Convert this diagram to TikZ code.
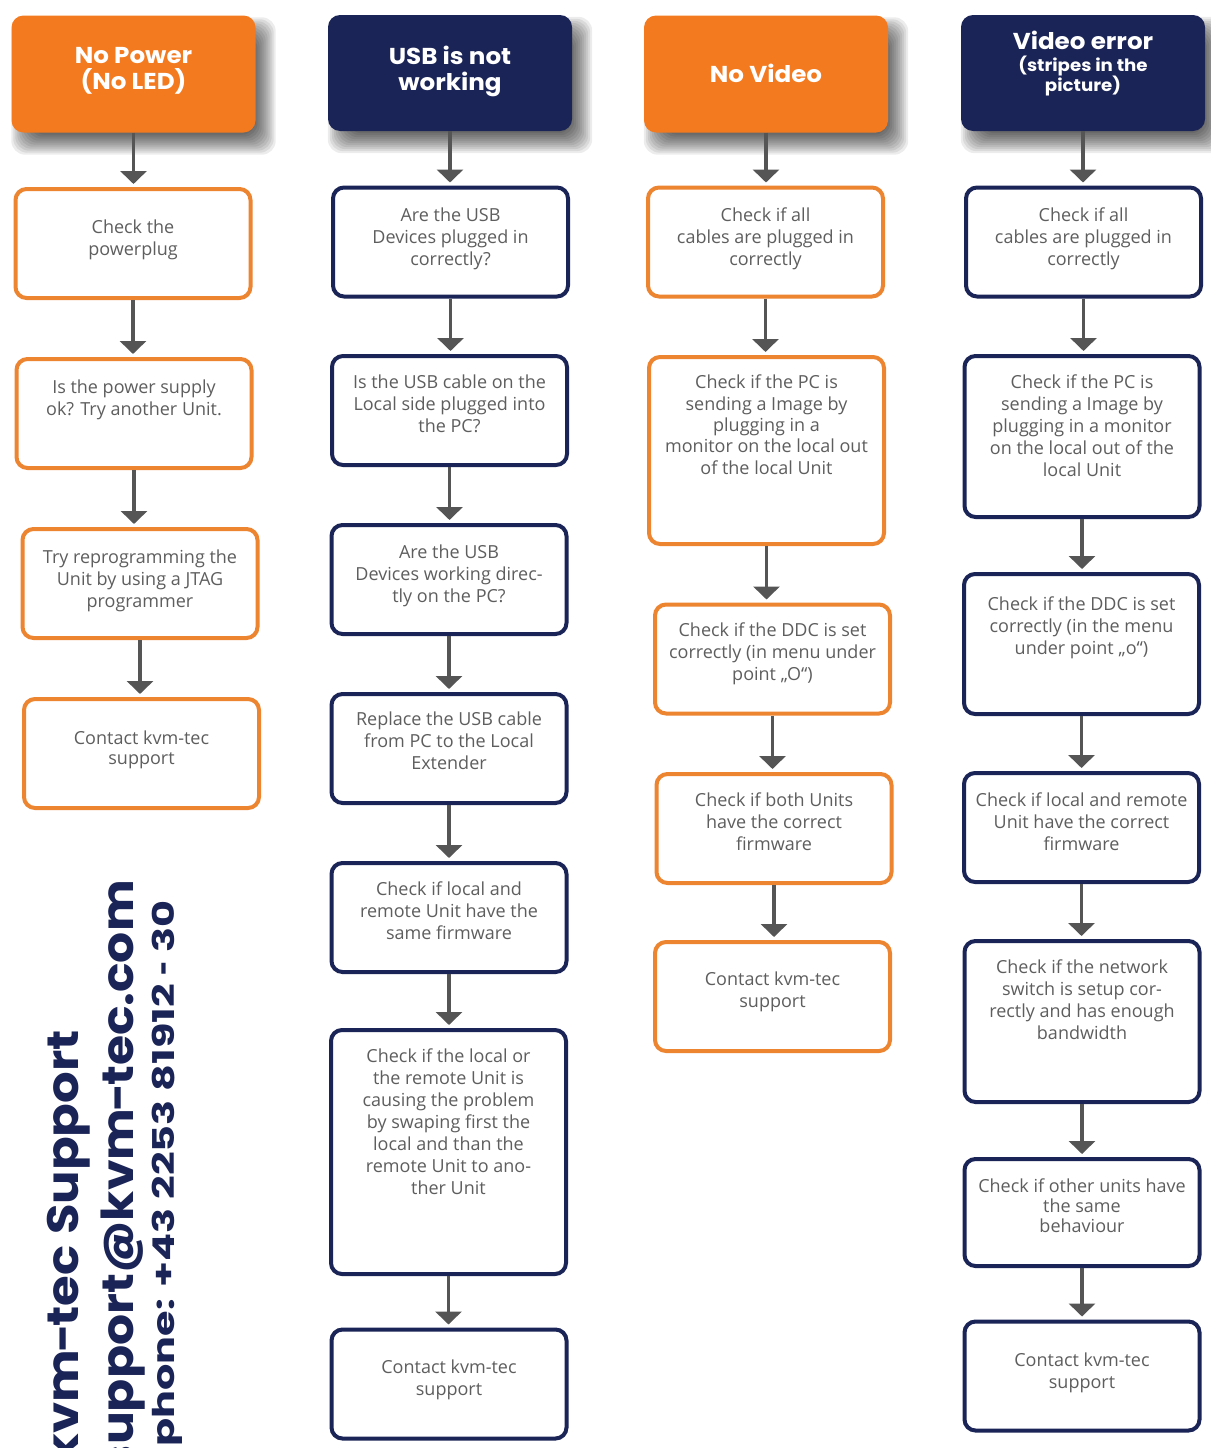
\documentclass[tikz,border=0pt]{standalone}
\usepackage{fontspec}
\usepackage{graphicx}
\setmainfont{Open Sans}
\newfontfamily\hfont{Poppins}
\usetikzlibrary{arrows.meta,backgrounds}
\definecolor{kor}{HTML}{F37A1F}
\definecolor{korb}{HTML}{EC8430}
\definecolor{knv}{HTML}{1B2456}
\definecolor{ktx}{HTML}{5E5E5E}
\definecolor{karr}{HTML}{555555}
\newcommand\hs[1]{\scalebox{1.07}[1]{#1}}
\newcommand\khy{\kern-2.5pt-\kern-2.5pt}
\tikzset{
  hdr/.style={rounded corners=12pt, minimum width=244pt, minimum height=117pt, inner sep=0pt},
  ohdr/.style={hdr, fill=kor},
  nhdr/.style={hdr, fill=knv},
  htxt/.style={text=white, font=\hfont\bfseries\fontsize{23}{26}\selectfont, align=center, anchor=center},
  bx/.style={draw, line width=4pt, rounded corners=11pt, fill=white, minimum width=235pt, minimum height=109pt, inner sep=0pt},
  obx/.style={bx, draw=korb},
  nbx/.style={bx, draw=knv},
  txt/.style={text=ktx, font=\fontsize{18}{22}\selectfont, align=center, anchor=north, inner sep=0pt},
  arr/.style={draw=karr, line width=3.5pt, -{Triangle[width=26pt,length=13pt]}, shorten >=3pt},
  vtxt/.style={text=knv, inner sep=0pt, anchor=base east, rotate=90},
}
\begin{document}
\begin{tikzpicture}[x=1pt,y=-1pt]
\useasboundingbox (0,0) rectangle (1210,1448);

% ---------- column 1 ----------
\node[ohdr, label={[htxt,yshift=3pt]center:{\hs{No Power}\\\hs{(No LED)}}}] (a0) at (133.5,74) {};
\node[obx, label={[txt,yshift=-33pt]north:{Check the\\powerplug}}] (a1) at (133,243.5) {};
\node[obx, label={[txt,yshift=-23pt]north:{Is the power supply\\ok? Try another Unit.}}] (a2) at (134,413.5) {};
\node[obx, label={[txt,yshift=-23pt]north:{Try reprogramming the\\Unit by using a JTAG\\programmer}}] (a3) at (140,583.5) {};
\node[obx, label={[txt,yshift=-34pt,font=\fontsize{18}{20}\selectfont]north:{Contact kvm-tec\\support}}] (a4) at (141.5,753.5) {};

% ---------- column 2 ----------
\node[nhdr, minimum height=116pt, label={[htxt,yshift=2pt]center:{\hs{USB is not}\\\hs{working}}}] (b0) at (450,73) {};
\node[nbx, label={[txt,yshift=-22pt]north:{Are the USB\\Devices plugged in\\correctly?}}] (b1) at (450.5,242) {};
\node[nbx, label={[txt,yshift=-21pt]north:{Is the USB cable on the\\Local side plugged into\\the PC?}}] (b2) at (449.5,410.5) {};
\node[nbx, label={[txt,yshift=-22pt]north:{Are the USB\\Devices working direc-\\tly on the PC?}}] (b3) at (449,579.5) {};
\node[nbx, label={[txt,yshift=-20pt]north:{Replace the USB cable\\from PC to the Local\\Extender}}] (b4) at (449,748.5) {};
\node[nbx, label={[txt,yshift=-21pt]north:{Check if local and\\remote Unit have the\\same firmware}}] (b5) at (449,917.5) {};
\node[nbx, minimum height=244pt, label={[txt,yshift=-21pt]north:{Check if the local or\\the remote Unit is\\causing the problem\\by swaping first the\\local and than the\\remote Unit to ano-\\ther Unit}}] (b6) at (448.5,1152) {};
\node[nbx, label={[txt,yshift=-32pt]north:{Contact kvm-tec\\support}}] (b7) at (449,1384) {};

% ---------- column 3 ----------
\node[ohdr, label={[htxt,yshift=1pt]center:{\hs{No Video}}}] (c0) at (766,74) {};
\node[obx, label={[txt,yshift=-22pt]north:{Check if all\\cables are plugged in\\correctly}}] (c1) at (765.5,242) {};
\node[obx, minimum height=187pt, label={[txt,yshift=-20pt,font=\fontsize{18}{21.3}\selectfont]north:{Check if the PC is\\sending a Image by\\plugging in a\\monitor on the local out\\of the local Unit}}] (c2) at (766.5,450.5) {};
\node[obx, label={[txt,yshift=-20pt]north:{Check if the DDC is set\\correctly (in menu under\\point „O“)}}] (c3) at (772.5,659) {};
\node[obx, label={[txt,yshift=-21pt]north:{Check if both Units\\have the correct\\firmware}}] (c4) at (774,828.5) {};
\node[obx, label={[txt,yshift=-32pt]north:{Contact kvm-tec\\support}}] (c5) at (772.5,996.5) {};

% ---------- column 4 ----------
\node[nhdr, minimum height=116pt, label={[htxt,yshift=9pt]center:{\hs{Video error}\\[-4pt]{\fontsize{17}{18}\selectfont\hs{(stripes in the}}\\[-6pt]{\fontsize{17}{18}\selectfont\hs{picture)}}}}] (d0) at (1083,73) {};
\node[nbx, label={[txt,yshift=-22pt]north:{Check if all\\cables are plugged in\\correctly}}] (d1) at (1083.5,242) {};
\node[nbx, minimum height=161pt, label={[txt,yshift=-21pt]north:{Check if the PC is\\sending a Image by\\plugging in a monitor\\on the local out of the\\local Unit}}] (d2) at (1082,436.5) {};
\node[nbx, minimum height=140pt, label={[txt,yshift=-25pt]north:{Check if the DDC is set\\correctly (in the menu\\under point „o“)}}] (d3) at (1081.5,644) {};
\node[nbx, label={[txt,yshift=-22pt]north:{Check if local and remote\\Unit have the correct\\firmware}}] (d4) at (1081.5,827.5) {};
\node[nbx, minimum height=161pt, label={[txt,yshift=-21pt]north:{Check if the network\\switch is setup cor-\\rectly and has enough\\bandwidth}}] (d5) at (1082,1021.5) {};
\node[nbx, minimum height=107pt, label={[txt,yshift=-22pt,font=\fontsize{18}{20}\selectfont]north:{Check if other units have\\the same\\behaviour}}] (d6) at (1082,1212.5) {};
\node[nbx, label={[txt,yshift=-33pt]north:{Contact kvm-tec\\support}}] (d7) at (1082,1376) {};

% ---------- header shadows and page background ----------
\begin{pgfonlayer}{background}
\fill[white] (0,0) rectangle (1210,1448);
\foreach \h in {a0,b0,c0,d0}{
  \foreach \k in {0,...,10}{
    \pgfmathsetmacro\e{10-2*\k}
    \fill[black, opacity=0.075, rounded corners=14pt]
      ([xshift={(10-\e)*1pt}, yshift={(-12+\e)*1pt}]\h.north west)
      rectangle ([xshift={(10+\e)*1pt}, yshift={(-12-\e)*1pt}]\h.south east);
  }
}
\end{pgfonlayer}

% ---------- arrows ----------
\foreach \p/\q in {a0/a1,a1/a2,a2/a3,a3/a4,
                   b0/b1,b1/b2,b2/b3,b3/b4,b4/b5,b5/b6,b6/b7,
                   c0/c1,c1/c2,c2/c3,c3/c4,c4/c5,
                   d0/d1,d1/d2,d2/d3,d3/d4,d4/d5,d5/d6,d6/d7}
  \draw[arr] (\p.south) -- (\p.south |- \q.north);

% ---------- vertical contact text ----------
\begin{scope}
\clip (0,0) rectangle (1210,1448);
\node[vtxt, font=\hfont\bfseries\fontsize{44}{44}\selectfont] (v1) at (78,1030) {\scalebox{1.13}[1]{kvm\khy tec Support}};
\node[vtxt, font=\hfont\bfseries\fontsize{44}{44}\selectfont] (v2) at (133,880) {\scalebox{1.11}[1]{support@kvm\khy tec.com}};
\node[vtxt, font=\hfont\bfseries\fontsize{30}{30}\selectfont] (v3) at (174,900) {\scalebox{1.38}[1]{phone: +43 2253 81912 \scalebox{0.6}[1]{-} 30}};
\end{scope}
\end{tikzpicture}
\end{document}
